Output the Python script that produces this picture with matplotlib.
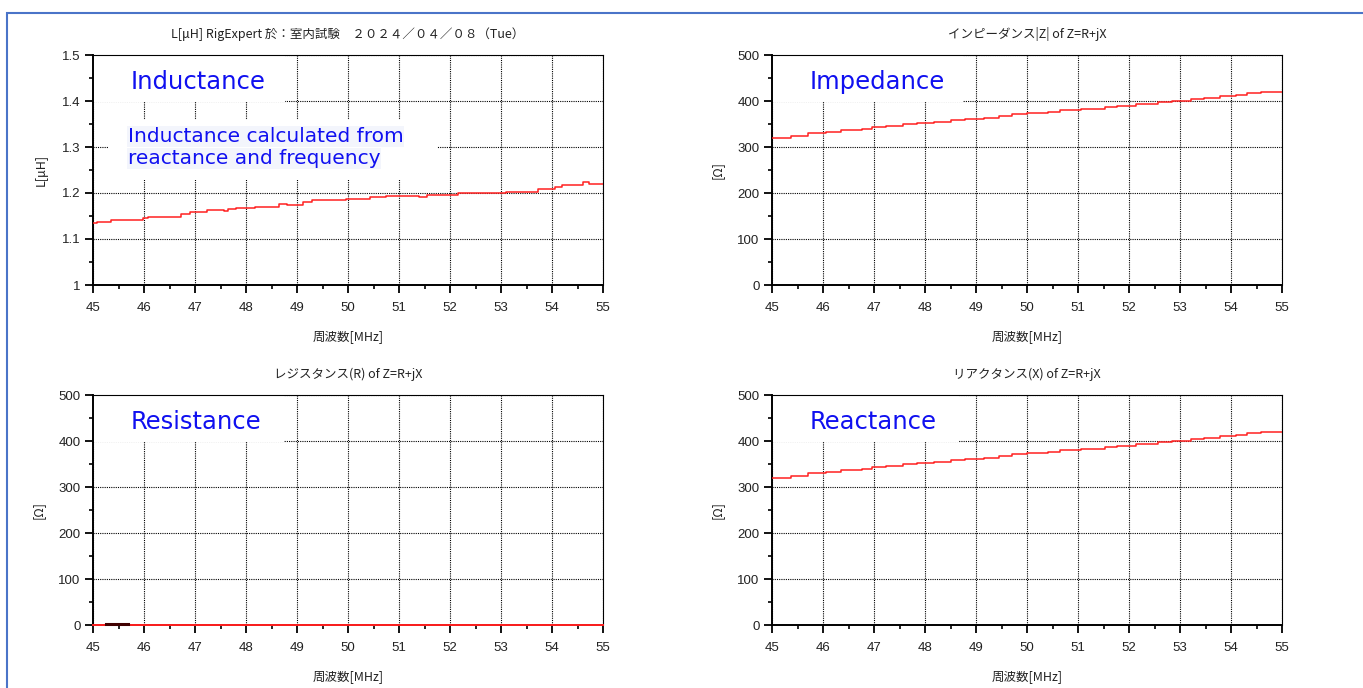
import matplotlib
matplotlib.use('Agg')
import matplotlib.pyplot as plt
from matplotlib.patches import Rectangle
from matplotlib.ticker import MultipleLocator

plt.rcParams['font.family'] = ['Liberation Sans', 'Noto Sans CJK JP', 'DejaVu Sans']

# measured sweep, RigExpert, 45-55 MHz (step values)
l_freq = [45.0, 45.07, 45.36, 45.98, 46.08, 46.72, 46.9, 47.23, 47.57, 47.64, 47.8,
          48.18, 48.65, 48.8, 49.12, 49.3, 49.5, 49.97, 50.44, 50.74, 51.39, 51.55,
          52.16, 52.57, 53.1, 53.72, 54.05, 54.19, 54.6, 54.73, 55.0]
l_uh = [1.135, 1.138, 1.142, 1.146, 1.148, 1.155, 1.158, 1.164, 1.161, 1.165, 1.168,
        1.170, 1.177, 1.175, 1.180, 1.184, 1.185, 1.187, 1.191, 1.194, 1.192, 1.196,
        1.199, 1.200, 1.202, 1.209, 1.212, 1.218, 1.223, 1.220, 1.220]

z_freq = [45.0, 45.37, 45.71, 46.05, 46.35, 46.76, 46.96, 47.23, 47.57, 47.84, 48.18,
          48.51, 48.78, 49.16, 49.46, 49.7, 50.0, 50.41, 50.64, 51.05, 51.52, 51.76,
          52.13, 52.57, 52.84, 53.21, 53.48, 53.78, 54.09, 54.32, 54.59, 55.0]
z_ohm = [320, 325, 330, 333, 336, 340, 343, 346, 349, 352, 355, 358, 361, 364, 368,
         371, 374, 377, 380, 383, 387, 390, 393, 397, 400, 404, 407, 410, 413, 417,
         420, 420]

x_freq = z_freq
x_ohm = [320, 325, 330, 333, 336, 340, 343, 346, 349, 352, 355, 358, 361, 364, 367,
         371, 374, 377, 380, 383, 387, 390, 393, 397, 400, 404, 407, 410, 413, 417,
         420, 420]

r_freq = [45.0, 55.0]
r_ohm = [0, 0]
r_blip_freq = [45.25, 45.68]
r_blip_ohm = [2, 2]

fig = plt.figure(figsize=(13.63, 6.88), dpi=100)

# blue frame along top and left edge
fig.add_artist(Rectangle((7 / 1363, -0.1), 1.2, 1 - 12.5 / 688 + 0.1,
                         transform=fig.transFigure, fill=False,
                         edgecolor='#4a74c8', linewidth=1.5))

cjk = ['Noto Sans CJK JP', 'DejaVu Sans']
txt_col = '#222222'
blue = '#1010f0'


def setup(ax, ylim, major, minor, ylabel, title):
    ax.set_xlim(45, 55)
    ax.set_ylim(*ylim)
    ax.xaxis.set_major_locator(MultipleLocator(1))
    ax.xaxis.set_minor_locator(MultipleLocator(0.5))
    ax.yaxis.set_major_locator(MultipleLocator(major))
    ax.yaxis.set_minor_locator(MultipleLocator(minor))
    ax.grid(True, which='major', color='black', linestyle=(0, (1, 1)), linewidth=0.8)
    ax.set_axisbelow(True)
    for s in ('top', 'right'):
        ax.spines[s].set_linestyle((0, (1, 1)))
        ax.spines[s].set_linewidth(0.8)
    for s in ('left', 'bottom'):
        ax.spines[s].set_linewidth(1.4)
    ax.tick_params(which='major', length=6, width=1.3, labelsize=9.5,
                   colors='black', labelcolor=txt_col, pad=3)
    ax.tick_params(which='minor', length=3, width=1.2)
    ax.tick_params(axis='x', pad=6)
    ax.set_xlabel('周波数[MHz]', family=cjk, fontsize=9, color=txt_col, labelpad=12)
    ax.set_ylabel(ylabel, family=cjk, fontsize=9, color=txt_col, labelpad=10)
    ax.set_title(title, family=cjk, fontsize=9, color=txt_col, pad=12)


def label_box(ax, x1, y0, y1, text):
    ax.add_patch(Rectangle((45, y0), x1 - 45, y1 - y0, facecolor='white',
                           edgecolor='none', zorder=1.5))
    ax.text(0.073, 0.883, text, transform=ax.transAxes, fontsize=17.5,
            color=blue, family='DejaVu Sans', va='center', zorder=3)


w, h = 510 / 1363, 230 / 688
ax_l = fig.add_axes([93 / 1363, 1 - 285 / 688, w, h])
ax_z = fig.add_axes([772 / 1363, 1 - 285 / 688, w, h])
ax_r = fig.add_axes([93 / 1363, 1 - 625 / 688, w, h])
ax_x = fig.add_axes([772 / 1363, 1 - 625 / 688, w, h])

setup(ax_l, (1, 1.5), 0.1, 0.05, 'L[μH]',
      'L[μH] RigExpert 於：室内試験　２０２４／０４／０８（Tue）')
ax_l.yaxis.set_major_formatter(lambda v, p: f'{v:g}')
setup(ax_z, (0, 500), 100, 50, '[Ω]', 'インピーダンス|Z| of Z=R+jX')
setup(ax_r, (0, 500), 100, 50, '[Ω]', 'レジスタンス(R) of Z=R+jX')
setup(ax_x, (0, 500), 100, 50, '[Ω]', 'リアクタンス(X) of Z=R+jX')

label_box(ax_l, 48.77, 1.398, 1.5, 'Inductance')
ax_l.add_patch(Rectangle((45.3, 1.228), 51.75 - 45.3, 1.359 - 1.228,
                         facecolor='white', edgecolor='none', zorder=1.5))
for i, line in enumerate(['Inductance calculated from', 'reactance and frequency']):
    ax_l.text(45.68, 1.322 - i * 0.048, line, fontsize=14.5, color=blue,
              family='DejaVu Sans', va='center', zorder=3,
              bbox=dict(boxstyle='square,pad=0.05', facecolor='#f3f5fc',
                        edgecolor='none'))
label_box(ax_z, 48.74, 398, 500, 'Impedance')
label_box(ax_r, 48.74, 398, 500, 'Resistance')
label_box(ax_x, 48.66, 398, 500, 'Reactance')

red = '#ff2020'
ax_l.plot(l_freq, l_uh, drawstyle='steps-post', color=red, linewidth=1.1, zorder=4)
ax_z.plot(z_freq, z_ohm, drawstyle='steps-post', color=red, linewidth=1.1, zorder=4)
ax_x.plot(x_freq, x_ohm, drawstyle='steps-post', color=red, linewidth=1.1, zorder=4)
ax_r.plot(r_freq, r_ohm, color=red, linewidth=1.4, zorder=4, clip_on=False)
ax_r.plot(r_blip_freq, r_blip_ohm, color='#400000', linewidth=2.2, zorder=5,
          clip_on=False)

fig.savefig('out.png', dpi=100)
